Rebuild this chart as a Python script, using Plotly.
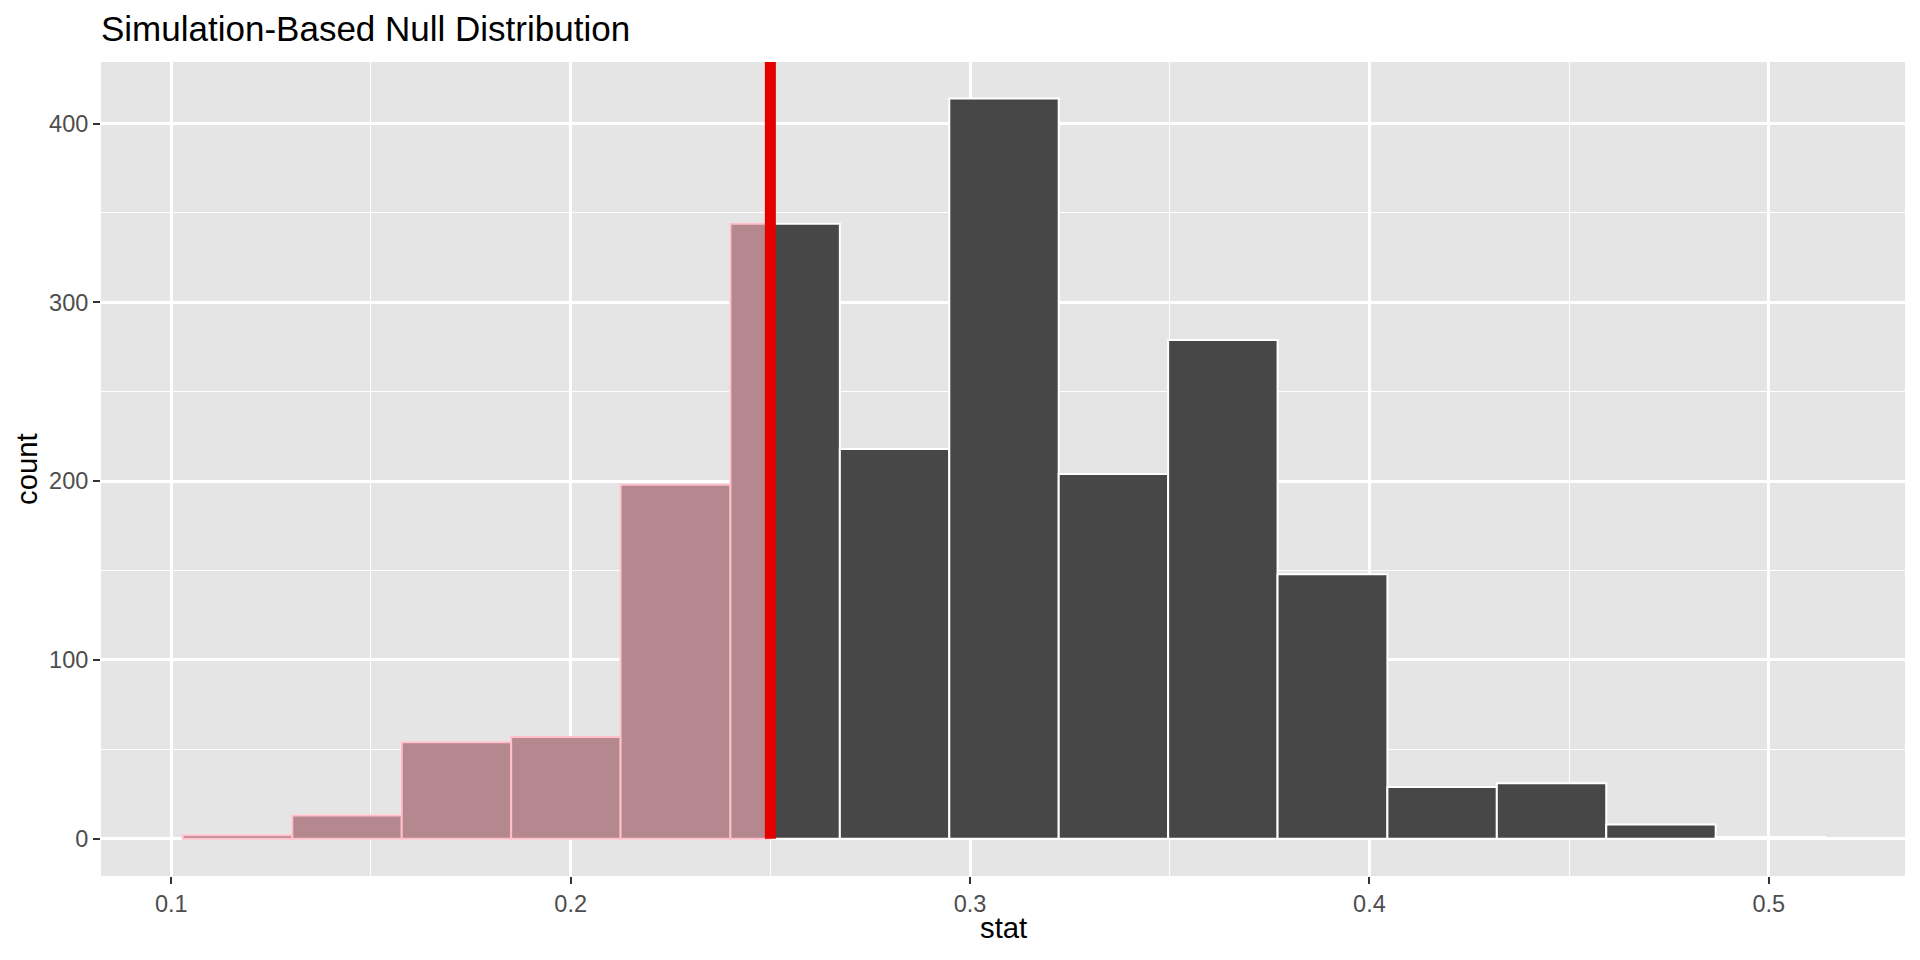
import plotly.graph_objects as go

# histogram of the simulated null statistic
bin_edges = [0.1029, 0.1303, 0.1577, 0.1851, 0.2125, 0.2400, 0.2674, 0.2948,
             0.3222, 0.3496, 0.3770, 0.4045, 0.4319, 0.4593, 0.4867, 0.5141]
counts = [2, 13, 54, 57, 198, 344, 218, 414, 204, 279, 148, 29, 31, 8, 1]
obs_stat = 0.25

x_ticks = [0.1, 0.2, 0.3, 0.4, 0.5]
y_ticks = [0, 100, 200, 300, 400]

x_range = [0.0824, 0.5341]
y_range = [-20.8, 434.4]

lefts = bin_edges[:-1]
rights = bin_edges[1:]
centers = [(a + b) / 2 for a, b in zip(lefts, rights)]
widths = [b - a for a, b in zip(lefts, rights)]

# shaded part: everything left of the observed statistic
sh_x, sh_w, sh_y = [], [], []
for a, b, c in zip(lefts, rights, counts):
    if a >= obs_stat:
        continue
    r = min(b, obs_stat)
    sh_x.append((a + r) / 2)
    sh_w.append(r - a)
    sh_y.append(c)

fig = go.Figure()
fig.add_trace(go.Bar(x=centers, y=counts, width=widths,
                     marker=dict(color="#474747", line=dict(color="white", width=2))))
fig.add_trace(go.Bar(x=sh_x, y=sh_y, width=sh_w,
                     marker=dict(color="#B5878F", line=dict(color="#FFC0CB", width=2))))

# observed statistic, drawn from the zero line up to the top of the panel
fig.add_shape(type="line", xref="x", yref="y", x0=obs_stat, x1=obs_stat,
              y0=0, y1=y_range[1], line=dict(color="#E50000", width=11), layer="above")

axis_common = dict(
    showline=False, zeroline=False, showgrid=True, gridcolor="white", gridwidth=2.7,
    ticks="outside", ticklen=7, tickwidth=2, tickcolor="#333333",
    tickfont=dict(family="Liberation Sans", size=23.5, color="#4D4D4D"),
)

fig.update_xaxes(range=x_range, tickvals=x_ticks,
                 ticktext=[str(v) for v in x_ticks],
                 minor=dict(dtick=0.05, tick0=0.05, showgrid=True, gridcolor="white",
                            gridwidth=1.3, ticks=""),
                 **axis_common)
fig.update_yaxes(range=y_range, tickvals=y_ticks,
                 ticktext=[str(v) for v in y_ticks],
                 minor=dict(dtick=50, tick0=50, showgrid=True, gridcolor="white",
                            gridwidth=1.3, ticks=""),
                 **axis_common)

fig.add_annotation(text="stat", xref="paper", yref="paper", x=0.5, y=-0.0864,
                   xanchor="center", yanchor="bottom", showarrow=False,
                   font=dict(family="Liberation Sans", size=29.3, color="black"))
fig.add_annotation(text="count", xref="paper", yref="paper", x=-0.0416, y=0.5,
                   xanchor="center", yanchor="middle", textangle=-90, showarrow=False,
                   font=dict(family="Liberation Sans", size=29.3, color="black"))

fig.update_layout(
    width=1920, height=960,
    margin=dict(l=101, r=15, t=62, b=84),
    barmode="overlay", showlegend=False,
    plot_bgcolor="#E5E5E5", paper_bgcolor="white",
    title=dict(text="Simulation-Based Null Distribution", x=101 / 1920, xanchor="left",
               xref="container", yref="container", y=0.970, yanchor="middle",
               font=dict(family="Liberation Sans", size=35, color="black")),
)

# drop the browser's default page margin so the figure sits at the window origin
fig.write_html("out.html", config={"displayModeBar": False},
               post_script="document.body.style.margin='0';document.body.style.overflow='hidden';")
